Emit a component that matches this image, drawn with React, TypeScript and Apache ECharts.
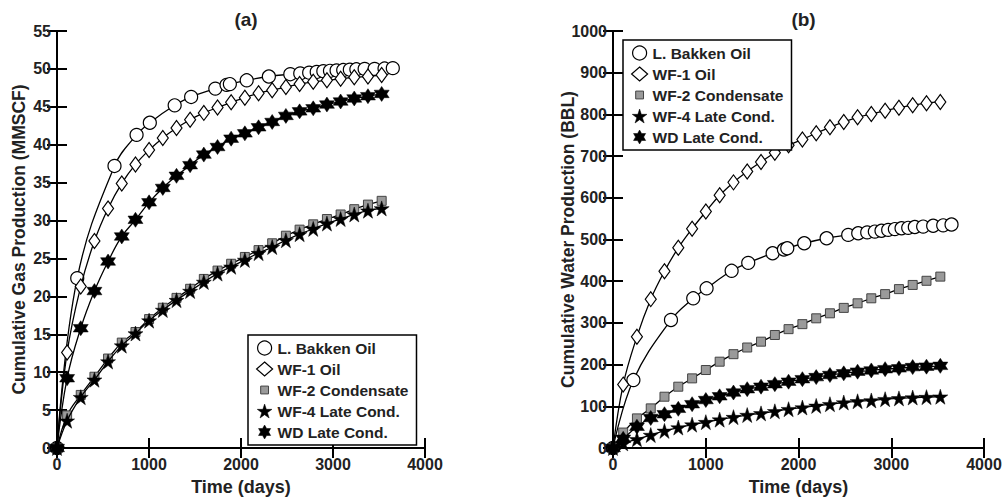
import React, { useEffect, useRef } from "react";
import * as echarts from "echarts";

// ---------- data ----------
const seriesNames = ["L. Bakken Oil", "WF-1 Oil", "WF-2 Condensate", "WF-4 Late Cond.", "WD Late Cond."];
const panelTitles = ["(a)", "(b)"];
const xAxisTitle = "Time (days)";
const yAxisTitles = ["Cumulative Gas Production (MMSCF)", "Cumulative Water Production (BBL)"];

const daysBakken = [0, 220, 625, 865, 1009, 1279, 1458, 1721, 1843, 1879, 2062, 2303, 2536, 2644, 2741, 2823, 2895, 2967, 3039, 3111, 3183, 3254, 3344, 3452, 3560, 3650];
const daysWells = [0, 110, 258, 407, 555, 704, 853, 1001, 1150, 1299, 1447, 1596, 1745, 1893, 2042, 2191, 2339, 2488, 2637, 2785, 2934, 3083, 3231, 3380, 3529];

const gasBakken = [0, 22.4, 37.2, 41.3, 42.9, 45.2, 46.3, 47.4, 47.9, 48.0, 48.5, 49.0, 49.3, 49.4, 49.5, 49.6, 49.7, 49.75, 49.8, 49.85, 49.9, 49.95, 50.0, 50.0, 50.05, 50.1];
const gasWF1 = [0, 12.6, 21.3, 27.3, 31.6, 34.9, 37.4, 39.3, 40.9, 42.2, 43.3, 44.2, 44.9, 45.6, 46.2, 46.8, 47.2, 47.6, 48.0, 48.3, 48.5, 48.7, 48.9, 49.0, 49.2];
const gasWF2 = [0, 4.3, 7.0, 9.4, 11.8, 13.9, 15.3, 17.0, 18.5, 19.8, 21.0, 22.3, 23.4, 24.3, 25.2, 26.1, 27.0, 28.0, 28.8, 29.5, 30.2, 30.8, 31.5, 32.1, 32.6];
const gasWF4 = [0, 3.6, 6.7, 9.0, 11.4, 13.5, 15.1, 16.8, 18.2, 19.5, 20.7, 21.9, 23.0, 23.9, 24.8, 25.7, 26.5, 27.4, 28.2, 28.9, 29.6, 30.2, 30.8, 31.3, 31.6];
const gasWD = [0, 9.2, 15.8, 20.7, 24.6, 27.9, 30.1, 32.4, 34.3, 35.9, 37.3, 38.7, 39.7, 40.8, 41.5, 42.3, 43.0, 43.8, 44.4, 44.8, 45.3, 45.7, 46.1, 46.4, 46.7];

const waterBakken = [0, 163, 307, 359, 383, 425, 444, 467, 476, 479, 491, 503, 511, 515, 517, 519, 521, 523, 525, 527, 528, 530, 531, 533, 534, 536];
const waterWF1 = [0, 152, 267, 357, 424, 480, 526, 567, 606, 637, 663, 686, 708, 726, 740, 755, 769, 782, 793, 801, 809, 816, 822, 827, 830];
const waterWF2 = [0, 37, 71, 95, 123, 147, 167, 187, 207, 225, 241, 255, 271, 285, 297, 311, 323, 336, 347, 359, 369, 381, 391, 401, 411];
const waterWF4 = [0, 11, 21, 31, 41, 49, 56, 62, 68, 74, 79, 83, 88, 93, 97, 101, 105, 109, 112, 114, 117, 119, 121, 122, 123];
const waterWD = [0, 22, 51, 72, 81, 94, 105, 115, 124, 133, 141, 147, 153, 159, 165, 170, 175, 179, 183, 186, 189, 191, 194, 195, 197];

const xTicks = { min: 0, max: 4000, interval: 1000 };
const yTicksGas = { min: 0, max: 55, interval: 5 };
const yTicksWater = { min: 0, max: 1000, interval: 100 };

// ---------- styling ----------
const STAR5 = "path://M50,0L61.2,34.5L97.6,34.5L68.2,55.9L79.4,90.5L50,69.1L20.6,90.5L31.8,55.9L2.4,34.5L38.8,34.5Z";
const STAR6 = "path://M50,0L64.5,24.9L93.3,25L79,50L93.3,75L64.5,75.1L50,100L35.5,75.1L6.7,75L21,50L6.7,25L35.5,24.9Z";
const SMALL_SQUARE = "path://M0,0M100,100M22,22L78,22L78,78L22,78Z";
const TXT = "#222";
const FONT = "'Liberation Sans', Arial, sans-serif";

const markerStyles = [
  { symbol: "circle", legendIcon: "circle", size: 13, item: { color: "#fff", borderColor: "#000", borderWidth: 1.2 } },
  { symbol: "diamond", legendIcon: "diamond", size: [11, 15], item: { color: "#fff", borderColor: "#000", borderWidth: 1.2 } },
  { symbol: "rect", legendIcon: SMALL_SQUARE, size: 9, item: { color: "#9a9a9a", borderColor: "#444", borderWidth: 1 } },
  { symbol: STAR5, legendIcon: STAR5, size: 15, item: { color: "#000", borderColor: "#000", borderWidth: 0.5 } },
  { symbol: STAR6, legendIcon: STAR6, size: 15, item: { color: "#000", borderColor: "#000", borderWidth: 0.5 } },
];

const grids = [
  { left: 57, top: 31, width: 368, height: 417 },
  { left: 613, top: 31, width: 371, height: 417 },
];

function pair(xs: number[], ys: number[]) {
  return xs.map((x, i) => [x, ys[i]]);
}

export default function App() {
  const ref = useRef<HTMLDivElement>(null);
  useEffect(() => {
    if (!ref.current) return;
    const chart = echarts.init(ref.current, undefined, { renderer: "svg" });

    const panelData = [
      [pair(daysBakken, gasBakken), pair(daysWells, gasWF1), pair(daysWells, gasWF2), pair(daysWells, gasWF4), pair(daysWells, gasWD)],
      [pair(daysBakken, waterBakken), pair(daysWells, waterWF1), pair(daysWells, waterWF2), pair(daysWells, waterWF4), pair(daysWells, waterWD)],
    ];

    const labelStyle = {
      color: TXT, fontSize: 16, fontWeight: "bold" as const, fontFamily: FONT,
      formatter: (v: number) => String(v),
    };
    const lineStyle = { color: "#000", width: 2 };
    const tick = { show: true, inside: true, length: 10, lineStyle: { color: "#000", width: 2 } };

    const xAxis: any[] = [];
    const yAxis: any[] = [];
    [0, 1].forEach((g) => {
      xAxis.push({
        type: "value", gridIndex: g, position: "bottom", ...xTicks,
        name: xAxisTitle, nameLocation: "middle", nameGap: 30, nameMoveOverlap: false,
        nameTextStyle: { color: TXT, fontSize: 18, fontWeight: "bold", fontFamily: FONT },
        axisLine: { show: true, lineStyle }, axisTick: tick,
        axisLabel: { ...labelStyle, margin: 8 }, splitLine: { show: false },
      });
      xAxis.push({
        type: "value", gridIndex: g, position: "top", ...xTicks,
        axisLine: { show: true, lineStyle }, axisTick: tick,
        axisLabel: { show: false }, splitLine: { show: false },
      });
      const yt = g === 0 ? yTicksGas : yTicksWater;
      yAxis.push({
        type: "value", gridIndex: g, position: "left", ...yt,
        name: yAxisTitles[g], nameLocation: "middle", nameGap: g === 0 ? 29 : 36, nameMoveOverlap: false,
        nameTextStyle: { color: TXT, fontSize: 17.5, fontWeight: "bold", fontFamily: FONT },
        axisLine: { show: true, lineStyle }, axisTick: tick,
        axisLabel: { ...labelStyle, margin: 6 }, splitLine: { show: false },
      });
      yAxis.push({
        type: "value", gridIndex: g, position: "right", ...yt,
        axisLine: { show: true, lineStyle }, axisTick: tick,
        axisLabel: { show: false }, splitLine: { show: false },
      });
    });

    const series: any[] = [];
    [0, 1].forEach((g) => {
      seriesNames.forEach((name, i) => {
        const m = markerStyles[i];
        series.push({
          type: "line", name, xAxisIndex: g * 2, yAxisIndex: g * 2,
          data: panelData[g][i], smooth: 0.4,
          symbol: m.symbol, symbolSize: m.size, showAllSymbol: true,
          itemStyle: m.item, lineStyle: { color: "#000", width: 1.3 },
          emphasis: { disabled: true }, z: 2 + i,
        });
      });
    });

    const legendData = seriesNames.map((name, i) => ({
      name,
      icon: markerStyles[i].legendIcon,
      itemStyle: markerStyles[i].item,
    }));
    const legendBase = {
      orient: "vertical", itemWidth: 16, itemHeight: 14, itemGap: 5,
      padding: [5, 8, 5, 8], borderColor: "#000", borderWidth: 1.5, backgroundColor: "#fff",
      textStyle: { color: TXT, fontSize: 15.5, fontWeight: "bold", fontFamily: FONT },
      data: legendData, selectedMode: false,
    };

    chart.setOption({
      animation: false,
      backgroundColor: "#fff",
      title: panelTitles.map((t, g) => ({
        text: t, left: grids[g].left + grids[g].width / 2, top: 5, textAlign: "center",
        textStyle: { color: TXT, fontSize: 19, fontWeight: "bold", fontFamily: FONT },
      })),
      grid: grids,
      xAxis, yAxis, series,
      legend: [
        { ...legendBase, left: 248, top: 335, width: 168 },
        { ...legendBase, left: 623, top: 40, width: 168 },
      ],
    });
    return () => chart.dispose();
  }, []);
  return <div ref={ref} style={{ position: "absolute", left: 0, top: 0, width: 1007, height: 501 }} />;
}
